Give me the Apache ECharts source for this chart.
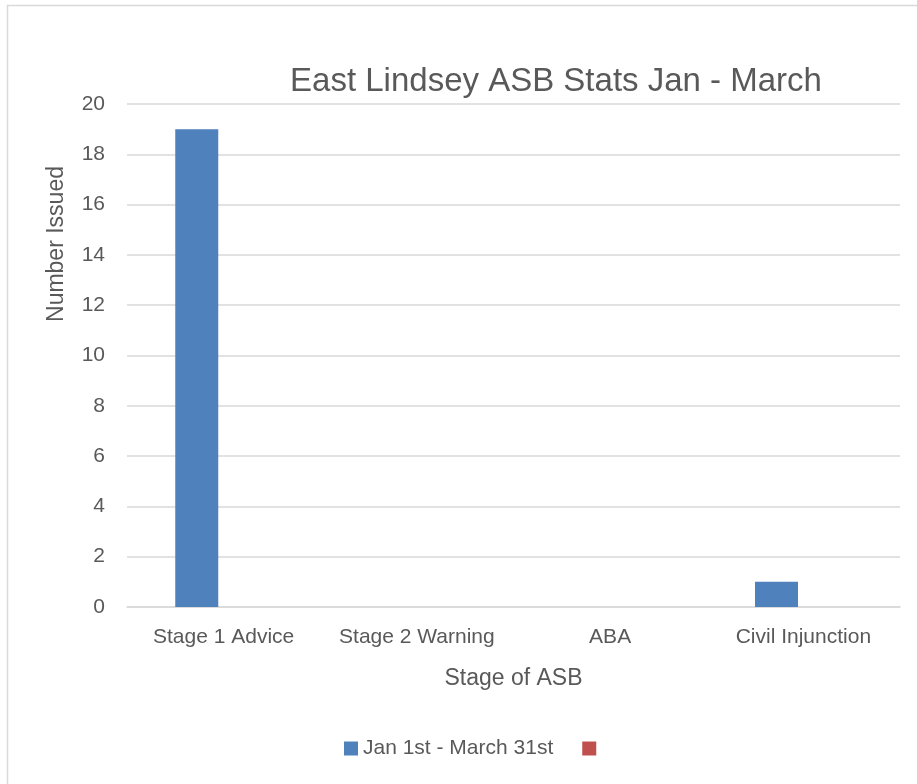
<!DOCTYPE html>
<html>
<head>
<meta charset="utf-8">
<script src="https://cdn.jsdelivr.net/npm/echarts@6/dist/echarts.min.js"></script>
<style>
  html, body { margin: 0; padding: 0; background: #fff; }
  #chart { width: 917px; height: 784px; }
</style>
</head>
<body>
<div id="chart"></div>
<script>
// ASB stages and counts issued, Jan 1st - March 31st
const categories = ['Stage 1 Advice', 'Stage 2 Warning', 'ABA', 'Civil Injunction'];
const issuedJanMar = [19, null, null, 1];
const secondSeries = [null, null, null, null];
const yTicks = { min: 0, max: 20, interval: 2 };

const FONT = "'Liberation Sans', sans-serif";
const TEXT = '#595959';

const chart = echarts.init(document.getElementById('chart'), null, { renderer: 'canvas' });
chart.setOption({
  animation: false,
  backgroundColor: '#fff',
  textStyle: { fontFamily: FONT, color: TEXT },
  graphic: [
    {
      type: 'rect',
      shape: { x: 7.5, y: 5.5, width: 940, height: 800 },
      style: { fill: 'none', stroke: '#d9d9d9', lineWidth: 1.5 },
      silent: true
    },
    {
      // vertical axis title
      type: 'text',
      x: 57, y: 244,
      rotation: Math.PI / 2,
      style: {
        text: 'Number Issued',
        fontFamily: FONT, fontSize: 23, fill: TEXT,
        align: 'center', verticalAlign: 'middle'
      },
      silent: true
    }
  ],
  title: {
    text: 'East Lindsey ASB Stats Jan - March',
    left: 551, top: 60, textAlign: 'center',
    textStyle: { fontFamily: FONT, fontSize: 33, fontWeight: 'normal', color: TEXT }
  },
  legend: {
    bottom: 25, left: 344,
    itemWidth: 14, itemHeight: 14, itemGap: 29,
    padding: 0,
    icon: 'rect',
    textStyle: { fontFamily: FONT, fontSize: 21, color: TEXT },
    data: ['Jan 1st - March 31st', ' ']
  },
  grid: { left: 127, right: 17, top: 104, bottom: 177, containLabel: false },
  xAxis: {
    type: 'category',
    data: categories,
    name: 'Stage of ASB',
    nameLocation: 'middle',
    nameGap: 60,
    nameTextStyle: { fontFamily: FONT, fontSize: 23, color: TEXT },
    axisLine: { lineStyle: { color: '#d9d9d9', width: 1.5 } },
    axisTick: { show: false },
    axisLabel: { fontFamily: FONT, fontSize: 21, color: TEXT, margin: 20, interval: 0 }
  },
  yAxis: {
    type: 'value',
    min: yTicks.min, max: yTicks.max, interval: yTicks.interval,
    axisLine: { show: false },
    axisTick: { show: false },
    axisLabel: { fontFamily: FONT, fontSize: 21, color: TEXT, margin: 22 },
    splitLine: { lineStyle: { color: '#d9d9d9', width: 1.5 } }
  },
  series: [
    {
      name: 'Jan 1st - March 31st',
      type: 'bar',
      data: issuedJanMar,
      barWidth: 43,
      barGap: '25%',
      itemStyle: { color: '#4f81bd' }
    },
    {
      name: ' ',
      type: 'bar',
      data: secondSeries,
      barWidth: 43,
      itemStyle: { color: '#c0504d' }
    }
  ]
});
</script>
</body>
</html>
